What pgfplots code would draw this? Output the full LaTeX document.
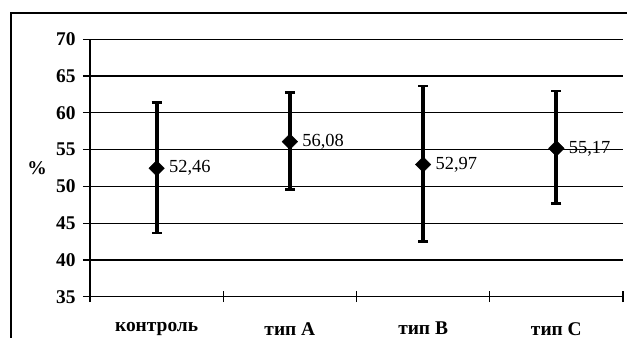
\documentclass[border=0pt]{standalone}
\usepackage{pgfplots}
\pgfplotsset{compat=1.18}
\usepackage{pgfplotstable}
\usepackage{fontspec}
\setmainfont{Liberation Serif}
\pgfplotstableread{
x y ep em
0 52.46 8.92 8.76
1 56.08 6.66 6.48
2 52.97 10.68 10.47
3 55.17 7.80 7.47
}\datatab
\begin{document}
\begin{tikzpicture}
\useasboundingbox (0,0) rectangle (627bp,338bp);
\draw[line width=1.3bp] (11bp,-2bp) -- (11bp,325bp) -- (630bp,325bp);
\begin{axis}[
  at={(90bp,41.3bp)}, anchor=south west,
  scale only axis, width=533bp, height=257.4bp,
  xmin=-0.5, xmax=3.5, ymin=35, ymax=70,
  ytick={35,40,...,70},
  xtick={0,1,2,3},
  xticklabels={контроль, тип A, тип B, тип C},
  minor xtick={-0.5,0.5,1.5,2.5,3.5},
  major x tick style={draw=none},
  minor x tick style={black, line width=1.2bp},
  minor tick length=11bp,
  major tick length=14bp,
  tick align=center,
  tick style={black, line width=1.2bp},
  axis x line*=bottom, axis y line*=left,
  axis line style={line width=1.2bp, -},
  ymajorgrids, grid style={black, line width=1.2bp},
  /pgf/number format/assume math mode=true,
  ticklabel style={font=\bfseries\fontsize{19.5}{20}\selectfont},
  yticklabel style={xshift=-4bp},
  xticklabel style={yshift=-15bp},
  ylabel={\%},
  ylabel style={rotate=-90, at={(axis description cs:-0.0994,0.5)}, anchor=center, font=\bfseries\fontsize{19.5}{20}\selectfont},
  clip=false,
]
\addplot[only marks, black, mark=square*, mark size=5.5bp, mark options={rotate=45},
  error bars/.cd, y dir=both, y explicit, error mark=|,
  error bar style={line width=4bp, black},
  error mark options={mark size=5bp, line width=2.4bp, black},
] table[x=x, y=y, y error plus=ep, y error minus=em] {\datatab};
\addplot[only marks, mark=none, black,
  nodes near coords={\pgfmathprintnumber[use comma,fixed,fixed zerofill,precision=2,assume math mode=true]{\pgfplotspointmeta}},
  point meta=y,
  nodes near coords style={anchor=west, xshift=9bp, font=\fontsize{18.5}{19}\selectfont},
] table[x=x, y=y] {\datatab};
\end{axis}
\end{tikzpicture}
\end{document}
